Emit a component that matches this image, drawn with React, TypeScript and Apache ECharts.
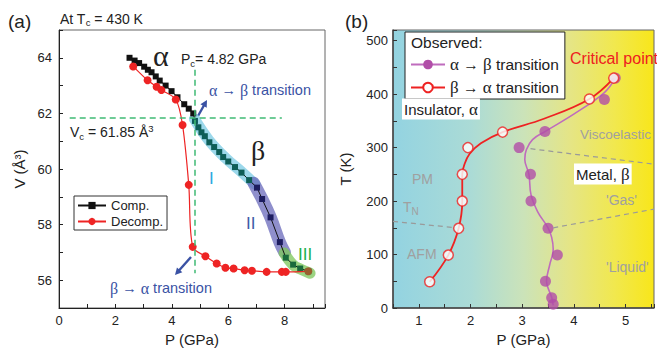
import React, { useEffect, useRef } from 'react';
import * as echarts from 'echarts';

// ---------- Panel (a): V vs P ----------
const compAlpha: [number, number][] = [
  [2.5, 64.0], [2.68, 63.9], [2.84, 63.81], [3.02, 63.68], [3.15, 63.57], [3.28, 63.48], [3.43, 63.33],
  [3.57, 63.18], [3.78, 63.0], [3.99, 62.8], [4.2, 62.58], [4.44, 62.33], [4.6, 62.17], [4.76, 62.0],
];
const compBetaI: [number, number][] = [
  [4.82, 61.73], [4.94, 61.5], [5.05, 61.32], [5.17, 61.18], [5.33, 60.96], [5.5, 60.79],
  [5.68, 60.61], [5.82, 60.43], [6.0, 60.27], [6.24, 60.07], [6.47, 59.87], [6.74, 59.6],
];
const compBetaII: [number, number][] = [[7.02, 59.33], [7.2, 58.92], [7.5, 58.26], [7.83, 57.37]];
const compBetaIII: [number, number][] = [[8.04, 56.81], [8.3, 56.56], [8.55, 56.42], [8.84, 56.32]];
const decomp: [number, number][] = [
  [2.63, 63.69], [3.14, 63.19], [3.46, 62.96], [3.63, 62.84], [4.14, 62.5], [4.38, 61.58], [4.6, 59.43],
  [4.74, 57.2], [5.19, 56.86], [5.59, 56.6], [5.9, 56.45], [6.19, 56.42], [6.58, 56.36], [6.84, 56.34],
  [7.36, 56.3], [7.9, 56.3], [8.04, 56.3], [8.84, 56.32],
];
const bandI: [number, number][] = [[4.8, 61.8], [5.3, 61.05], [5.9, 60.4], [6.5, 59.87], [6.95, 59.45]];
const bandII: [number, number][] = [[6.9, 59.5], [7.2, 58.92], [7.5, 58.26], [7.83, 57.35], [8.0, 57.0]];
const bandIII: [number, number][] = [[7.98, 56.98], [8.3, 56.55], [8.6, 56.38], [8.9, 56.25]];
const Vc = 61.85;
const Pc = 4.82;

// ---------- Panel (b): T vs P ----------
const a2bObs: [number, number][] = [
  [3.6, 7], [3.57, 19], [3.45, 50], [3.68, 99], [3.5, 149], [3.17, 200], [3.16, 250],
  [2.94, 300], [3.44, 330], [4.59, 390], [4.8, 430],
];
const a2bCurve: [number, number][] = [
  [3.6, 5], [3.57, 20], [3.47, 50], [3.53, 80], [3.6, 110], [3.57, 132], [3.5, 150], [3.3, 180],
  [3.17, 212], [3.13, 250], [3.05, 278], [3.08, 296], [3.2, 315], [3.44, 330], [4.02, 364],
  [4.59, 403], [4.8, 430],
];
const b2aObs: [number, number][] = [
  [1.21, 49], [1.57, 99], [1.77, 149], [1.84, 200], [1.84, 250], [1.95, 300], [2.62, 329], [4.3, 391], [4.77, 430],
];
const b2aCurve: [number, number][] = [
  [1.21, 49], [1.57, 99], [1.77, 149], [1.84, 200], [1.84, 250], [1.88, 268], [1.98, 288], [2.2, 308],
  [2.62, 329], [3.42, 354], [4.3, 391], [4.77, 430],
];
const grayLines: [number, number][][] = [
  [[0.5, 162], [1.72, 150]],
  [[3.6, 150], [5.55, 185]],
  [[3.16, 298], [5.55, 269]],
];

const FONT = "'Liberation Sans', Arial, sans-serif";
const SERIF = "'Liberation Serif', 'Times New Roman', serif";
const BLUE = '#3a52a4';
const GRAY = '#a0a0a0';

const sub = { fontSize: 9.5, padding: [8, 0, 0, 0], fontFamily: FONT };
const sup = { fontSize: 9.5, padding: [0, 0, 8, 0], fontFamily: FONT };

function txt(x: number, y: number, text: string, extra: any = {}) {
  return {
    type: 'text',
    x,
    y,
    z: 100,
    silent: true,
    style: {
      text,
      fontSize: 14,
      fontFamily: FONT,
      fill: '#222',
      verticalAlign: 'middle',
      align: 'left',
      rich: { sub, sup, g: { fontFamily: SERIF, fontSize: 16 } },
      ...extra,
    },
  };
}

function arrow(x1: number, y1: number, x2: number, y2: number, color: string) {
  const dx = x2 - x1, dy = y2 - y1;
  const L = Math.hypot(dx, dy);
  const ux = dx / L, uy = dy / L;
  const hl = 7, hw = 3.6;
  const bx = x2 - ux * hl, by = y2 - uy * hl;
  const px = -uy, py = ux;
  return {
    type: 'group',
    z: 100,
    silent: true,
    children: [
      { type: 'line', shape: { x1, y1, x2: bx + ux, y2: by + uy }, style: { stroke: color, lineWidth: 2.4 } },
      {
        type: 'polygon',
        shape: { points: [[x2, y2], [bx + px * hw, by + py * hw], [bx - px * hw, by - py * hw]] },
        style: { fill: color },
      },
    ],
  };
}

const axisCommon = (color = '#222') => ({
  type: 'value' as const,
  axisLine: { show: true, lineStyle: { color, width: 1 } },
  axisTick: { show: true, inside: true, length: 4, lineStyle: { color } },
  splitLine: { show: false },
  nameLocation: 'middle' as const,
  nameTextStyle: { fontSize: 15, fontFamily: FONT, color: '#222' },
});

export default function App() {
  const ref = useRef<HTMLDivElement>(null);
  useEffect(() => {
    if (!ref.current) return;
    const chart = echarts.init(ref.current, undefined, { renderer: 'svg' });
    const grad = new echarts.graphic.LinearGradient(0, 0, 1, 0, [
      { offset: 0, color: '#93d3e1' },
      { offset: 0.3, color: '#abdbd6' },
      { offset: 0.5, color: '#cbe3b9' },
      { offset: 0.68, color: '#e5e585' },
      { offset: 0.85, color: '#f1e84e' },
      { offset: 1, color: '#f8e61a' },
    ]);
    const compData = [
      ...compAlpha.map((p) => ({ value: p })),
      ...compBetaI.map((p) => ({ value: p, itemStyle: { color: '#0e5e58' } })),
      ...compBetaII.map((p) => ({ value: p, itemStyle: { color: '#1d1d60' } })),
      ...compBetaIII.map((p) => ({ value: p, itemStyle: { color: '#1b6b3c' } })),
    ];
    const decompData = decomp.map((p, i) =>
      i === decomp.length - 1 ? { value: p, itemStyle: { color: '#9a5f2e' } } : { value: p }
    );
    const band = (data: [number, number][], color: string, width: number) => ({
      type: 'line',
      xAxisIndex: 0,
      yAxisIndex: 0,
      data,
      smooth: 0.4,
      symbol: 'none',
      silent: true,
      z: 1,
      lineStyle: { color, width, cap: 'round', join: 'round' },
    });
    const tickFmt = (step: number, maxV: number) => (v: number) => {
      const r = v / step;
      return Math.abs(r - Math.round(r)) < 1e-6 && v <= maxV + 1e-6 ? String(Math.round(v * 100) / 100) : '';
    };
    const greekRich = { g: { fontFamily: SERIF, fontSize: 17 } };
    const legendFmt = (name: string) => name.replace(/([αβ])/g, '{g|$1}');

    chart.setOption({
      animation: false,
      grid: [
        { left: 59, top: 30, width: 266, height: 281, show: true, borderColor: '#666', borderWidth: 1, backgroundColor: 'transparent' },
        { left: 393, top: 30, width: 284, height: 280.5, show: true, borderColor: '#666', borderWidth: 1, backgroundColor: grad },
      ],
      xAxis: [
        {
          ...axisCommon(),
          gridIndex: 0, min: 0, max: 9.43, interval: 1,
          axisLabel: { formatter: tickFmt(2, 8), fontSize: 13, color: '#222', fontFamily: FONT, margin: 6 },
          name: 'P (GPa)', nameGap: 24,
        },
        {
          ...axisCommon('#333'),
          gridIndex: 1, min: 0.5, max: 5.55, interval: 0.5,
          axisLine: { show: true, lineStyle: { color: '#444', width: 1.5 } },
          axisLabel: { formatter: tickFmt(1, 5), fontSize: 13, color: '#222', fontFamily: FONT, margin: 6 },
          name: 'P (GPa)', nameGap: 24,
        },
      ],
      yAxis: [
        {
          ...axisCommon(),
          gridIndex: 0, min: 55, max: 65, interval: 1,
          axisLabel: { formatter: tickFmt(2, 64), fontSize: 13, color: '#222', fontFamily: FONT, margin: 7 },
          name: 'V (Å³)', nameGap: 32, nameRotate: 90,
        },
        {
          ...axisCommon('#333'),
          gridIndex: 1, min: 0, max: 520, interval: 50,
          axisLine: { show: true, lineStyle: { color: '#444', width: 1.5 } },
          axisLabel: { formatter: tickFmt(100, 500), fontSize: 13, color: '#222', fontFamily: FONT, margin: 5 },
          name: 'T (K)', nameGap: 40, nameRotate: 90,
        },
      ],
      legend: [
        {
          data: ['Comp.', 'Decomp.'],
          left: 74, top: 196, orient: 'vertical',
          itemWidth: 28, itemHeight: 9, itemGap: 3,
          padding: [3, 4, 2, 3],
          borderColor: '#333', borderWidth: 1, backgroundColor: '#fff', borderRadius: 0,
          textStyle: { fontSize: 13, color: '#222', fontFamily: FONT },
          selectedMode: false,
        },
        {
          data: ['α → β transition', 'β → α transition'],
          left: 405, top: 32, orient: 'vertical',
          itemWidth: 34, itemHeight: 12, itemGap: 6,
          padding: [24, 6, 3, 5],
          borderColor: '#222', borderWidth: 1, backgroundColor: '#fff', borderRadius: 0,
          formatter: legendFmt,
          textStyle: { fontSize: 15.5, color: '#222', fontFamily: FONT, rich: greekRich },
          selectedMode: false,
        },
      ],
      series: [
        band(bandI, 'rgba(128,205,230,0.78)', 11),
        band(bandII, 'rgba(100,100,185,0.72)', 12.5),
        band(bandIII, 'rgba(128,200,95,0.78)', 11),
        {
          name: 'Comp.',
          type: 'line', xAxisIndex: 0, yAxisIndex: 0,
          data: compData,
          symbol: 'rect', symbolSize: 6,
          itemStyle: { color: '#111' },
          lineStyle: { color: '#111', width: 1 },
          z: 3,
          markLine: {
            silent: true, symbol: ['none', 'none'], label: { show: false },
            lineStyle: { type: [6, 4], color: '#3fba74', width: 1.5 },
            data: [
              [{ coord: [0.38, Vc] }, { coord: [7.9, Vc] }],
              [{ coord: [Pc, 63.57] }, { coord: [Pc, 56.25] }],
            ],
          },
        },
        {
          name: 'Decomp.',
          type: 'line', xAxisIndex: 0, yAxisIndex: 0,
          data: decompData,
          smooth: 0.3,
          symbol: 'circle', symbolSize: 8,
          itemStyle: { color: '#ee2424' },
          lineStyle: { color: '#ee2424', width: 1.2 },
          z: 4,
        },
        // panel b
        {
          name: 'α → β transition',
          type: 'line', xAxisIndex: 1, yAxisIndex: 1,
          data: a2bCurve, smooth: 0.4, showSymbol: false, symbol: 'circle',
          itemStyle: { color: '#b14ea8' },
          lineStyle: { color: '#bf6cbd', width: 1.6 },
          z: 3,
          markLine: {
            silent: true, symbol: ['none', 'none'], label: { show: false },
            lineStyle: { type: [5, 4], color: '#9a9a9a', width: 1.2 },
            data: grayLines.map((l) => [{ coord: l[0] }, { coord: l[1] }]),
          },
        },
        {
          type: 'scatter', xAxisIndex: 1, yAxisIndex: 1,
          data: a2bObs, symbol: 'circle', symbolSize: 11,
          itemStyle: { color: '#b14ea8' }, z: 4,
        },
        {
          name: 'β → α transition',
          type: 'line', xAxisIndex: 1, yAxisIndex: 1,
          data: b2aCurve, smooth: 0.4, showSymbol: false, symbol: 'circle',
          itemStyle: { color: '#fff', borderColor: '#ee2222', borderWidth: 1.5 },
          lineStyle: { color: '#ee2222', width: 1.8 },
          z: 3,
        },
        {
          type: 'scatter', xAxisIndex: 1, yAxisIndex: 1,
          data: b2aObs, symbol: 'circle', symbolSize: 10,
          itemStyle: { color: '#fff', borderColor: '#ee2222', borderWidth: 1.5 }, z: 5,
        },
      ],
      graphic: [
        txt(8, 21, '(a)', { fontSize: 19 }),
        txt(60, 18.5, 'At T{sub|c} = 430 K'),
        txt(153, 55, 'α', { fontSize: 30, fontFamily: SERIF }),
        txt(181, 59, 'P{sub|c}= 4.82 GPa'),
        txt(209, 90, '{g|α} → {g|β} transition', { fill: BLUE, fontSize: 14.5, rich: { g: { fontFamily: SERIF, fontSize: 16, fill: BLUE } } }),
        arrow(198, 116, 207, 100, BLUE),
        txt(70, 132, 'V{sub|c} = 61.85 Å{sup|3}'),
        txt(251, 150, 'β', { fontSize: 28, fontFamily: SERIF }),
        txt(209, 178, 'I', { fontSize: 17, fill: '#2aaae0' }),
        txt(246, 223.5, 'II', { fontSize: 17, fill: '#3d5aa8' }),
        txt(298, 254, 'III', { fontSize: 17, fill: '#1db04d' }),
        arrow(191, 257, 175, 275, BLUE),
        txt(110, 288, '{g|β} → {g|α} transition', { fill: BLUE, fontSize: 14.5, rich: { g: { fontFamily: SERIF, fontSize: 16, fill: BLUE } } }),
        // panel b
        txt(345, 21, '(b)', { fontSize: 19 }),
        txt(411, 42.5, 'Observed:', { fontSize: 15.5 }),
        txt(570, 58, 'Critical point', { fontSize: 16, fill: '#ee2020' }),
        txt(402, 109, 'Insulator, {g|α}', { fontSize: 15, backgroundColor: '#fff', padding: [2, 2, 2, 2], rich: { g: { fontFamily: SERIF, fontSize: 17 } } }),
        txt(580, 134.5, 'Viscoelastic', { fontSize: 13.5, fill: GRAY }),
        txt(574, 174, 'Metal, {g|β}', { fontSize: 15, backgroundColor: '#fff', padding: [2, 2, 2, 2], rich: { g: { fontFamily: SERIF, fontSize: 17 } } }),
        txt(412, 179, 'PM', { fill: GRAY }),
        txt(403, 207, 'T{sub|N}', { fill: GRAY, rich: { sub: { ...sub, fontSize: 10, fill: GRAY } } }),
        txt(407, 254, 'AFM', { fill: GRAY }),
        txt(606, 200, "'Gas'", { fill: GRAY }),
        txt(606, 267, "'Liquid'", { fill: GRAY }),
      ],
    });
    return () => chart.dispose();
  }, []);
  return <div ref={ref} style={{ position: 'absolute', left: 0, top: 0, width: 657, height: 352 }} />;
}
